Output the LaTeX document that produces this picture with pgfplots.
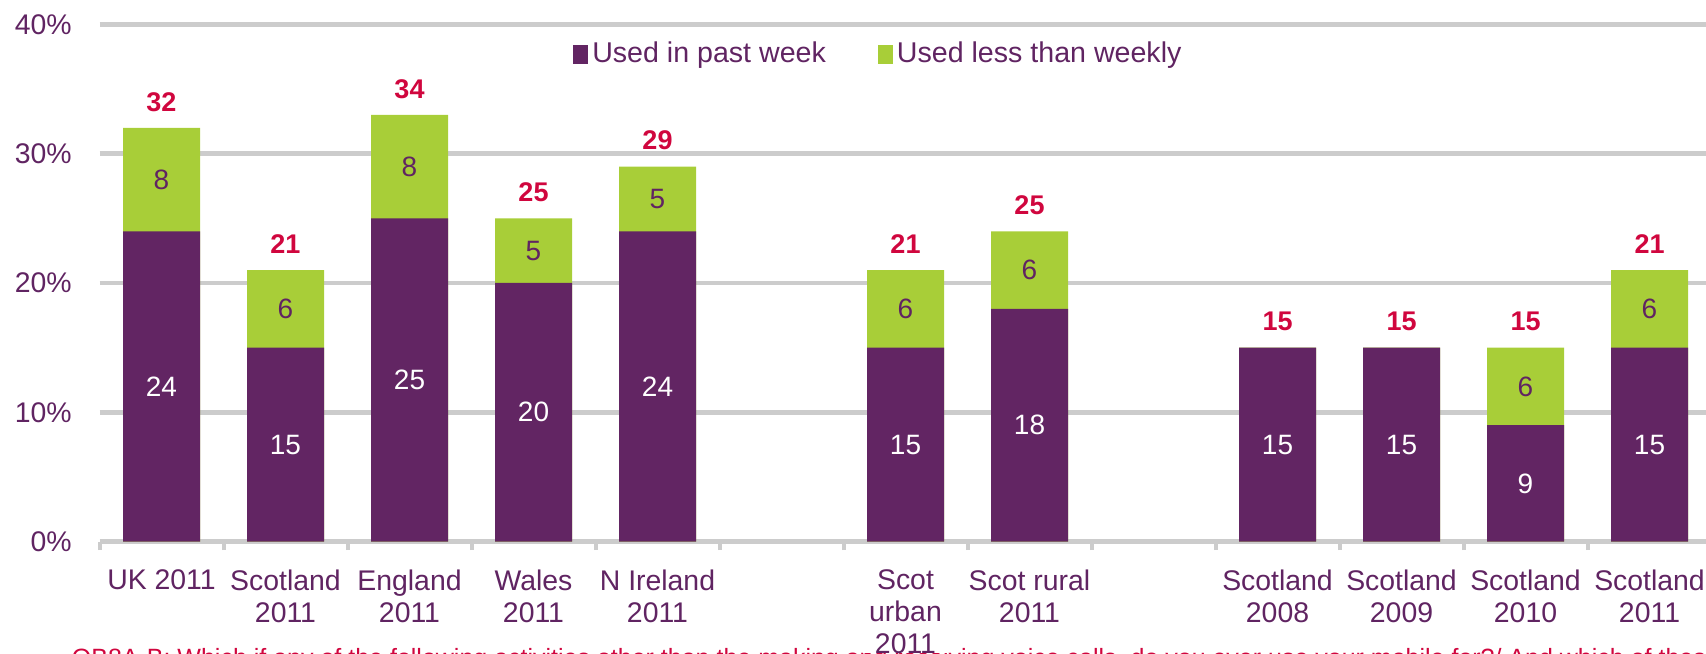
\documentclass[border=0pt]{standalone}
\usepackage{fontspec}
\setmainfont{Liberation Sans}
\usepackage{pgfplots}
\pgfplotsset{compat=1.18}
\usepackage{pgfplotstable}
\definecolor{barpurple}{RGB}{98,37,99}
\definecolor{bargreen}{RGB}{168,206,56}
\definecolor{txtpurple}{RGB}{96,36,98}
\definecolor{totred}{RGB}{208,6,62}
\definecolor{gridgray}{RGB}{204,204,204}

\pgfplotstableread{
x p g t
0 24 8 32
1 15 6 21
2 25 8 34
3 20 5 25
4 24 5 29
6 15 6 21
7 18 6 25
9 15 0 15
10 15 0 15
11 9 6 15
12 15 6 21
}\data

\begin{document}
\begin{tikzpicture}
\node[anchor=base west, text=totred, font=\fontsize{12.5}{15}\selectfont, inner sep=0pt] at (-14pt,-62.2pt) {QB8A-B: Which if any of the following activities other than the making and receiving voice calls, do you ever use your mobile for?/ And which of these};
\begin{axis}[
  at={(0,0)}, anchor=south west,
  x=62pt, y=6.465pt,
  xmin=-0.5, xmax=12.5, ymin=0, ymax=40,
  clip=false,
  axis line style={draw=none},
  ymajorgrids,
  major grid style={gridgray, line width=2.35pt},
  ytick={0,10,20,30,40},
  yticklabels={0\%,10\%,20\%,30\%,40\%},
  major tick length=0pt,
  ytick style={draw=none},
  yticklabel style={anchor=east, inner sep=0pt, xshift=-13.75pt, text=txtpurple, font=\fontsize{14.2}{16}\selectfont},
  xtick={0,1,2,3,4,6,7,9,10,11,12},
  xticklabels={UK 2011,{Scotland\\2011},{England\\2011},{Wales\\2011},{N Ireland\\2011},{Scot\\urban\\2011},{Scot rural\\2011},{Scotland\\2008},{Scotland\\2009},{Scotland\\2010},{Scotland\\2011}},
  minor xtick={-0.5,0.5,...,12.5},
  minor tick length=4.2pt,
  tick align=outside,
  xtick pos=bottom,
  minor x tick style={gridgray, line width=2pt},
  xticklabel style={anchor=north, inner ysep=0pt, inner xsep=3pt, yshift=-14pt, align=center, text=txtpurple, fill=white, font=\fontsize{14.2}{15.8}\selectfont},
  legend style={at={(0.4838,0.9425)}, anchor=center, draw=none, fill=none, legend columns=2, font=\fontsize{14.3}{16}\selectfont, text=txtpurple, /tikz/every even column/.append style={column sep=24pt}},
  legend image code/.code={\fill[#1, draw=none] (0pt,-4.8pt) rectangle (7.5pt,4.8pt);},
]
\addplot[ybar, bar width=38.5pt, bar shift=0pt, fill=bargreen, draw=none, forget plot] table[x=x, y expr=\thisrow{p}+\thisrow{g}] {\data};
\addplot[ybar, bar width=38.5pt, bar shift=0pt, fill=barpurple, draw=none, forget plot] table[x=x, y=p] {\data};
\addplot[draw=none, forget plot, point meta=explicit symbolic, nodes near coords,
  every node near coord/.append style={anchor=center, text=white, font=\fontsize{14}{16}\selectfont}] table[x=x, y expr=\thisrow{p}/2, meta=p] {\data};
\addplot[draw=none, forget plot, point meta=explicit symbolic,
  nodes near coords={\ifnum\pgfplotspointmeta=0 \else\pgfplotspointmeta\fi},
  every node near coord/.append style={anchor=center, text=txtpurple, font=\fontsize{14}{16}\selectfont}] table[x=x, y expr=\thisrow{p}+\thisrow{g}/2, meta=g] {\data};
\addplot[draw=none, forget plot, point meta=explicit symbolic, nodes near coords,
  every node near coord/.append style={anchor=center, yshift=13pt, text=totred, font=\bfseries\fontsize{13.5}{15}\selectfont}] table[x=x, y expr=\thisrow{p}+\thisrow{g}, meta=t] {\data};
\addlegendimage{fill=barpurple, draw=none}
\addlegendentry{Used in past week}
\addlegendimage{fill=bargreen, draw=none}
\addlegendentry{Used less than weekly}
\end{axis}
\pgfresetboundingbox
\path[use as bounding box] (-49.75pt,-55.7pt) rectangle (803.25pt,270.8pt);
\end{tikzpicture}
\end{document}
